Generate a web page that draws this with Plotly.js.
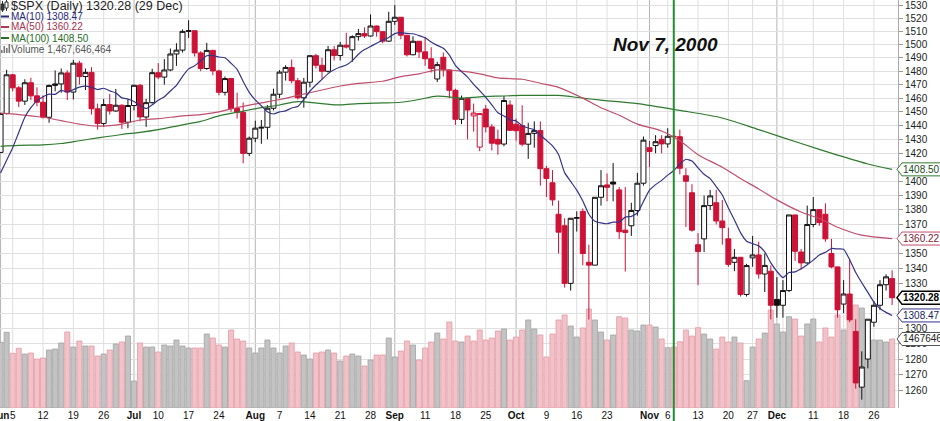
<!DOCTYPE html>
<html><head><meta charset="utf-8">
<script src="https://cdn.plot.ly/plotly-3.0.1.min.js"></script>
<style>html,body{margin:0;padding:0;background:#fff;}#chart{width:940px;height:421px;}</style>
</head><body><div id="chart"></div>
<script>
// ---- trading days (2000) ----
const dates = [
'06-01','06-02','06-05','06-06','06-07','06-08','06-09','06-12','06-13','06-14',
'06-15','06-16','06-19','06-20','06-21','06-22','06-23','06-26','06-27','06-28',
'06-29','06-30','07-03','07-05','07-06','07-07','07-10','07-11','07-12','07-13',
'07-14','07-17','07-18','07-19','07-20','07-21','07-24','07-25','07-26','07-27',
'07-28','07-31','08-01','08-02','08-03','08-04','08-07','08-08','08-09','08-10',
'08-11','08-14','08-15','08-16','08-17','08-18','08-21','08-22','08-23','08-24',
'08-25','08-28','08-29','08-30','08-31','09-01','09-05','09-06','09-07','09-08',
'09-11','09-12','09-13','09-14','09-15','09-18','09-19','09-20','09-21','09-22',
'09-25','09-26','09-27','09-28','09-29','10-02','10-03','10-04','10-05','10-06',
'10-09','10-10','10-11','10-12','10-13','10-16','10-17','10-18','10-19','10-20',
'10-23','10-24','10-25','10-26','10-27','10-30','10-31','11-01','11-02','11-03',
'11-06','11-07','11-08','11-09','11-10','11-13','11-14','11-15','11-16','11-17',
'11-20','11-21','11-22','11-24','11-27','11-28','11-29','11-30','12-01','12-04',
'12-05','12-06','12-07','12-08','12-11','12-12','12-13','12-14','12-15','12-18',
'12-19','12-20','12-21','12-22','12-26','12-27','12-28','12-29'];

const prevClose0 = 1420.6; // close of 31 May

const open = [
1420.6,1448.8,1477.3,1467.6,1457.8,1471.4,1461.7,1457.0,1446.0,1469.4,
1470.5,1478.7,1464.5,1486.0,1476.0,1479.1,1452.2,1441.5,1455.3,1450.6,
1454.8,1442.4,1454.6,1469.5,1446.2,1456.7,1478.9,1475.6,1480.9,1492.9,
1495.8,1510.0,1510.5,1493.7,1482.0,1495.6,1480.2,1464.3,1474.5,1452.4,
1449.6,1419.9,1430.8,1438.1,1438.7,1452.6,1462.9,1479.3,1482.8,1472.9,
1460.3,1471.8,1491.6,1484.4,1479.9,1496.1,1491.7,1499.5,1496.0,1506.0,
1508.3,1506.5,1514.1,1509.8,1502.6,1517.7,1520.8,1507.1,1492.3,1502.5,
1494.5,1489.3,1474.2,1490.4,1480.9,1465.8,1444.5,1459.9,1447.0,1424.4,
1452.0,1439.0,1430.0,1426.6,1455.0,1441.0,1440.0,1426.5,1434.3,1436.3,
1409.0,1399.0,1377.0,1369.0,1329.8,1374.2,1379.0,1344.0,1342.1,1388.8,
1397.5,1399.5,1394.0,1366.0,1369.0,1379.6,1398.7,1424.0,1425.5,1430.0,
1426.7,1432.2,1431.9,1404.0,1392.0,1356.0,1360.0,1383.0,1385.0,1372.3,
1360.0,1344.0,1347.4,1322.4,1347.0,1349.0,1336.1,1338.0,1319.0,1315.2,
1325.0,1376.5,1351.0,1343.6,1369.9,1380.2,1377.0,1350.0,1340.9,1316.0,
1322.7,1298.0,1262.0,1280.0,1304.0,1315.2,1328.9,1333.0];

const high = [
1448.8,1481.0,1478.0,1469.0,1474.0,1475.0,1468.0,1462.0,1470.0,1480.6,
1482.0,1480.7,1488.4,1487.8,1482.0,1483.0,1456.0,1459.5,1463.0,1466.8,
1455.5,1459.0,1470.0,1470.5,1459.5,1481.8,1486.0,1489.0,1497.0,1501.0,
1511.5,1518.5,1511.0,1495.0,1501.3,1496.0,1481.0,1476.0,1475.0,1464.0,
1456.8,1432.0,1443.5,1444.0,1455.0,1467.0,1480.8,1484.5,1488.8,1475.0,
1475.0,1491.6,1493.0,1490.0,1499.0,1499.0,1502.0,1509.0,1507.0,1511.8,
1513.0,1523.0,1514.5,1510.0,1525.0,1530.1,1520.8,1507.1,1506.3,1502.5,
1505.8,1498.0,1487.0,1494.0,1481.0,1467.0,1461.9,1460.0,1456.0,1449.0,
1455.0,1441.0,1437.0,1461.7,1458.3,1445.0,1454.8,1442.0,1443.0,1443.0,
1411.0,1408.0,1386.5,1374.2,1374.2,1379.0,1381.0,1356.0,1389.0,1408.0,
1405.6,1413.0,1396.0,1396.0,1385.0,1406.0,1432.0,1428.8,1433.0,1433.0,
1438.0,1436.0,1437.0,1409.3,1398.0,1364.0,1390.0,1394.0,1394.0,1387.0,
1367.7,1353.0,1347.4,1343.0,1362.0,1358.0,1350.0,1341.9,1334.0,1332.0,
1376.5,1376.5,1353.0,1383.0,1389.0,1380.5,1384.5,1360.0,1340.9,1332.0,
1346.4,1306.0,1285.0,1306.0,1318.0,1332.0,1335.9,1338.6];

const low = [
1420.0,1448.0,1465.0,1453.5,1455.0,1458.6,1454.0,1445.0,1442.0,1465.0,
1464.0,1458.6,1459.0,1470.0,1466.0,1448.0,1437.0,1439.0,1448.0,1450.0,
1437.5,1438.0,1451.0,1443.0,1439.0,1456.0,1474.0,1470.0,1480.0,1484.0,
1494.0,1505.0,1491.0,1480.0,1481.0,1477.0,1462.0,1462.0,1450.0,1445.0,
1412.8,1418.0,1428.0,1426.8,1430.0,1451.0,1460.0,1473.0,1471.0,1459.0,
1453.0,1468.0,1482.0,1474.0,1479.0,1488.0,1488.0,1497.0,1487.0,1503.0,
1505.0,1506.0,1506.0,1501.0,1502.0,1515.0,1504.0,1491.0,1492.0,1489.9,
1484.0,1479.0,1472.0,1476.0,1460.0,1440.4,1441.0,1430.0,1435.6,1421.5,
1435.0,1422.0,1419.0,1425.0,1436.0,1429.0,1425.0,1416.0,1424.0,1397.0,
1389.0,1383.0,1350.0,1327.0,1325.0,1365.0,1342.0,1305.8,1342.0,1383.0,
1386.0,1386.0,1360.0,1337.8,1362.0,1376.0,1397.0,1410.0,1420.0,1420.0,
1424.0,1423.0,1405.0,1368.2,1365.0,1328.6,1351.0,1380.0,1370.0,1356.0,
1341.0,1338.0,1321.0,1321.0,1341.0,1333.0,1324.0,1305.9,1307.0,1307.0,
1324.0,1345.0,1339.0,1343.0,1368.0,1369.0,1358.0,1340.0,1307.0,1310.0,
1304.0,1261.0,1254.1,1274.0,1301.0,1312.0,1325.0,1315.4];

const close = [
1448.8,1477.3,1467.6,1457.8,1471.4,1461.7,1457.0,1446.0,1469.4,1470.5,
1478.7,1464.5,1486.0,1476.0,1479.1,1452.2,1441.5,1455.3,1450.6,1454.8,
1442.4,1454.6,1469.5,1446.2,1456.7,1478.9,1475.6,1480.9,1492.9,1495.8,
1510.0,1510.5,1493.7,1482.0,1495.6,1480.2,1464.3,1474.5,1452.4,1449.6,
1419.9,1430.8,1438.1,1438.7,1452.6,1462.9,1479.3,1482.8,1472.9,1460.3,
1471.8,1491.6,1484.4,1479.9,1496.1,1491.7,1499.5,1498.1,1506.0,1508.3,
1506.5,1514.1,1509.8,1502.6,1517.7,1520.8,1507.1,1492.3,1502.5,1494.5,
1489.3,1482.0,1484.9,1480.9,1465.8,1444.5,1459.9,1451.3,1449.1,1448.7,
1439.0,1427.2,1426.6,1458.3,1436.5,1436.2,1426.5,1434.3,1436.3,1409.0,
1402.0,1387.0,1364.6,1329.8,1374.2,1374.6,1350.0,1342.1,1388.8,1396.9,
1395.8,1398.1,1364.9,1364.4,1379.6,1398.7,1429.4,1421.2,1428.3,1426.7,
1432.2,1431.9,1409.3,1400.1,1366.0,1351.3,1383.0,1389.8,1372.3,1367.7,
1342.6,1347.4,1322.4,1341.8,1349.0,1336.1,1341.9,1315.2,1315.2,1325.0,
1376.5,1351.5,1343.6,1369.9,1380.2,1371.2,1360.0,1340.9,1312.2,1322.7,
1305.6,1264.7,1274.9,1306.0,1315.2,1328.9,1334.2,1320.28];

// volume, millions of shares
const volumeM = [
1397,1610,1163,1270,1149,1170,1042,1064,1234,1255,
1383,1617,1297,1425,1319,1319,1106,1149,1234,1361,
1404,1531,574,1383,1297,1297,1191,1340,1319,1446,
1319,1276,1276,1276,1574,1489,1340,1297,1659,1468,
1425,1276,1170,1276,1446,1276,1170,1319,1383,1191,
1127,1042,1170,1191,1234,1170,1000,1106,1149,1106,
893,1021,1127,1127,1489,1085,1212,1425,1340,1021,
1276,1404,1595,1468,1829,1425,1404,1531,1425,1659,
1446,1489,1638,1680,1446,1510,1659,1872,1680,1553,
1085,1574,1872,1978,1744,1510,1702,2106,1872,1617,
1446,1553,1942,1914,1659,1638,1765,1765,1723,1468,
1283,1297,1410,1659,1531,1708,1574,1468,1255,1510,
1404,1510,1383,581,1297,1468,1595,2084,1787,1617,
1942,1893,1531,1787,1893,1404,1702,1510,1978,1659,
2191,2191,2127,1127,1446,1446,1404,1467.646464];
const lastVolume = '1467646464';

const ma10 = [
1406,1415,1424,1435,1446,1453,1458,1461,1463,1462.8,
1465.7,1464.5,1466.3,1468.1,1468.9,1467.9,1466.4,1467.3,1465.4,1463.9,
1460.2,1459.3,1457.6,1454.6,1452.4,1455.1,1458.5,1461.0,1465.3,1469.4,
1476.1,1481.7,1484.1,1487.7,1491.6,1491.7,1490.6,1490.0,1485.9,1481.3,
1472.3,1464.3,1458.7,1454.4,1450.1,1448.4,1449.9,1450.7,1452.8,1453.8,
1459.0,1465.1,1469.7,1473.9,1478.2,1481.1,1483.1,1484.6,1487.9,1492.7,
1496.2,1498.5,1501.0,1503.3,1505.4,1508.3,1509.1,1508.5,1508.2,1506.8,
1505.1,1501.9,1499.4,1497.2,1492.0,1484.4,1479.7,1475.6,1470.2,1465.6,
1460.6,1455.1,1449.3,1447.0,1444.1,1443.3,1439.9,1438.2,1437.0,1433.0,
1429.3,1425.3,1419.1,1406.2,1400.0,1393.8,1386.2,1377.0,1372.2,1371.0,
1370.4,1371.5,1371.5,1375.0,1375.5,1377.9,1385.9,1393.8,1397.7,1400.7,
1404.4,1407.7,1412.2,1415.7,1414.4,1409.6,1405.0,1401.9,1396.3,1390.4,
1381.4,1373.0,1364.3,1358.4,1356.7,1355.2,1351.1,1343.6,1337.9,1333.7,
1337.1,1337.5,1339.6,1342.4,1345.5,1349.0,1350.8,1353.4,1353.1,1352.9,
1345.8,1337.1,1330.2,1323.8,1317.3,1313.1,1310.5,1308.47];

const ma50Dates = ['06-01','06-06','06-12','06-15','06-20','06-23','06-29','07-05','07-10','07-14',
 '07-19','07-24','07-28','08-02','08-07','08-10','08-16','08-21','08-24','08-30','09-05','09-08',
 '09-13','09-19','09-22','09-27','10-03','10-06','10-11','10-17','10-20','10-25','10-30','11-03',
 '11-08','11-13','11-17','11-22','11-28','12-01','12-07','12-12','12-15','12-21','12-29'];
const ma50Vals = [1449,1448,1446,1443.5,1441,1439.5,1441,1444,1445,1447,
 1448,1450,1454,1456.5,1459,1462,1466,1469,1471,1472.5,1476,1478,
 1481,1480,1478,1475,1474,1471,1468,1460,1453,1447.5,1441,1436,
 1429,1419,1410,1402,1394.7,1387,1378.5,1374,1368,1362.5,1360.22];

const ma100Dates = ['06-01','06-06','06-12','06-15','06-20','06-23','06-29','07-05','07-10','07-14',
 '07-19','07-24','07-28','08-02','08-07','08-10','08-16','08-21','08-24','08-30','09-05','09-08',
 '09-13','09-19','09-22','09-27','10-03','10-06','10-11','10-17','10-20','10-30','11-08','11-17',
 '11-28','12-07','12-15','12-22','12-29'];
const ma100Vals = [1425,1425.7,1426,1427,1429,1431,1433.5,1435,1437,1440.5,
 1443,1447,1450.5,1453,1455,1457.5,1456,1455,1456,1456.5,1457,1459,
 1461.5,1460,1461,1461.5,1462,1462,1462,1460,1458.6,1456,1451,1445.5,
 1437,1427,1418.7,1412.3,1408.5];

// x-axis labels
const tickDates = ['06-01','06-05','06-12','06-19','06-26','07-03','07-10','07-17','07-24','08-01','08-07',
 '08-14','08-21','08-28','09-01','09-11','09-18','09-25','10-02','10-09','10-16','10-23','11-01','11-06',
 '11-13','11-20','11-27','12-01','12-11','12-18','12-26'];
const tickLabels = ['<b>Jun</b>','5','12','19','26','<b>Jul</b>','10','17','24','<b>Aug</b>','7',
 '14','21','28','<b>Sep</b>','11','18','25','<b>Oct</b>','9','16','23','<b>Nov</b>','6',
 '13','20','27','<b>Dec</b>','11','18','26'];
const monthLineDates = ['06-01','07-03','08-01','09-01','10-02','11-01','12-01'];
const weekLineDates = ['06-05','06-12','06-19','06-26','07-10','07-17','07-24','07-31','08-07','08-14',
 '08-21','08-28','09-11','09-18','09-25','10-09','10-16','10-23','10-30','11-06','11-13','11-20',
 '11-27','12-04','12-11','12-18','12-26'];
const markDate = '11-07';
const markText = 'Nov 7, 2000';
const priceTicks = [1260,1270,1280,1290,1300,1310,1320,1330,1340,1350,1360,1370,1380,1390,1400,
 1410,1420,1430,1440,1450,1460,1470,1480,1490,1500,1510,1520,1530];
// price labels that sit under the value tags on the right (hidden there in the original)
const coveredTicks = [1310,1320,1360,1410];

// ---- build ----
const idx = d => dates.indexOf(d);
const RED = '#cc1236';
const up = {x:[],open:[],high:[],low:[],close:[]};
const dn = {x:[],open:[],high:[],low:[],close:[]};
const volColor = [], volLine = [];
for (let i = 0; i < dates.length; i++) {
  const prev = i === 0 ? prevClose0 : close[i-1];
  const t = close[i] >= prev ? up : dn;
  t.x.push(i); t.open.push(open[i]); t.high.push(high[i]); t.low.push(low[i]); t.close.push(close[i]);
  volColor.push(close[i] >= prev ? '#c3c3c3' : '#f2c2c9');
  volLine.push(close[i] >= prev ? '#a2a2a2' : '#e39aa6');
}
const xs = dates.map((d,i)=>i);

const W = 898, H = 408;           // plot area in px
const R0 = 3.096494, R1 = 3.185852;  // log10 price range
const VMAX = 8678;
const px = x => x / W;
const py = y => 1 - y / H;
const pPrice = v => (Math.log10(v) - R0) / (R1 - R0);

const traces = [
  {type:'bar', x:xs, y:volumeM, yaxis:'y', xaxis:'x', width:0.84,
   marker:{color:volColor, line:{color:volLine, width:0.8}}, hoverinfo:'skip'},
  {type:'candlestick', x:up.x, open:up.open, high:up.high, low:up.low, close:up.close,
   xaxis:'x', yaxis:'y2', whiskerwidth:0,
   increasing:{line:{color:'#111', width:1}, fillcolor:'#ffffff'},
   decreasing:{line:{color:'#111', width:1}, fillcolor:'#111111'}, hoverinfo:'skip'},
  {type:'candlestick', x:dn.x, open:dn.open, high:dn.high, low:dn.low, close:dn.close,
   xaxis:'x', yaxis:'y2', whiskerwidth:0,
   increasing:{line:{color:RED, width:1}, fillcolor:'#ffffff'},
   decreasing:{line:{color:RED, width:1}, fillcolor:RED}, hoverinfo:'skip'},
  {type:'scatter', mode:'lines', x:ma100Dates.map(idx), y:ma100Vals, xaxis:'x', yaxis:'y2',
   line:{color:'#2f7a2f', width:1.2, shape:'spline', smoothing:0.8}, hoverinfo:'skip'},
  {type:'scatter', mode:'lines', x:ma50Dates.map(idx), y:ma50Vals, xaxis:'x', yaxis:'y2',
   line:{color:'#c04e6c', width:1.2, shape:'spline', smoothing:0.8}, hoverinfo:'skip'},
  {type:'scatter', mode:'lines', x:xs, y:ma10, xaxis:'x', yaxis:'y2',
   line:{color:'#34348a', width:1.2, shape:'spline', smoothing:0.5}, hoverinfo:'skip'}
];

const shapes = [];
weekLineDates.forEach(d => shapes.push({type:'line', xref:'x', yref:'paper', x0:idx(d), x1:idx(d), y0:0, y1:1,
  line:{color:'#dedede', width:1}, layer:'below'}));
monthLineDates.forEach(d => shapes.push({type:'line', xref:'x', yref:'paper', x0:idx(d), x1:idx(d), y0:0, y1:1,
  line:{color:'#b4b4b4', width:1}, layer:'below'}));
shapes.push({type:'line', xref:'x', yref:'paper', x0:idx(markDate), x1:idx(markDate), y0:-13/H, y1:1,
  line:{color:'#1f8f2f', width:2}, layer:'above'});

// legend icons
shapes.push({type:'line', xref:'paper', yref:'paper', x0:px(2.5), x1:px(2.5), y0:py(1), y1:py(12), line:{color:'#333', width:1}});
shapes.push({type:'rect', xref:'paper', yref:'paper', x0:px(1), x1:px(4), y0:py(4), y1:py(10), line:{color:'#333', width:1}, fillcolor:'#333'});
shapes.push({type:'line', xref:'paper', yref:'paper', x0:px(6.5), x1:px(6.5), y0:py(0), y1:py(11), line:{color:'#333', width:1}});
shapes.push({type:'rect', xref:'paper', yref:'paper', x0:px(5), x1:px(8), y0:py(2), y1:py(8), line:{color:'#333', width:1}, fillcolor:'#fff'});
[['#2a2a7a',16.5],['#b03a5a',27],['#2a6e2a',38]].forEach(([c,y]) =>
  shapes.push({type:'line', xref:'paper', yref:'paper', x0:px(1), x1:px(9), y0:py(y), y1:py(y), line:{color:c, width:2}}));
[[1,50,53],[3.5,46,53],[6,48,53],[8.5,44,53]].forEach(([x,y0,y1]) =>
  shapes.push({type:'rect', xref:'paper', yref:'paper', x0:px(x), x1:px(x+1.6), y0:py(y1), y1:py(y0), line:{width:0}, fillcolor:'#777'}));

// right-hand value tags
const tags = [
  {yp:pPrice(ma100Vals[ma100Vals.length-1]), text:ma100Vals[ma100Vals.length-1].toFixed(2), border:'#2f7a2f', color:'#1e4a1e', bold:false},
  {yp:pPrice(ma50Vals[ma50Vals.length-1]), text:ma50Vals[ma50Vals.length-1].toFixed(2), border:'#c04e6c', color:'#7a2038', bold:false},
  {yp:pPrice(ma10[ma10.length-1]), text:ma10[ma10.length-1].toFixed(2), border:'#34348a', color:'#222266', bold:false},
  {yp:volumeM[volumeM.length-1]/VMAX, text:lastVolume, border:'#555', color:'#222', bold:false},
  {yp:pPrice(close[close.length-1]), text:close[close.length-1].toFixed(2), border:'#000', color:'#000', bold:true}
];
const annotations = [];
tags.forEach(t => {
  const h = 6.5 / H, xt = 897/W, xb = 902/W, xe = 980/W;
  shapes.push({type:'path', xref:'paper', yref:'paper',
    path:`M ${xt},${t.yp} L ${xb},${t.yp+h} L ${xe},${t.yp+h} L ${xe},${t.yp-h} L ${xb},${t.yp-h} Z`,
    fillcolor:'#ffffff', line:{color:t.border, width:t.bold?1.5:1}, layer:'above'});
  annotations.push({xref:'paper', yref:'paper', x:902.5/W, y:t.yp, xanchor:'left', yanchor:'middle',
    text:t.bold?`<b>${t.text}</b>`:t.text, showarrow:false, borderpad:0,
    font:{size:10, color:t.color, family:'Liberation Sans, Arial, sans-serif'}});
});

// legend texts
const lastClose = close[close.length-1].toFixed(2);
annotations.push({xref:'paper', yref:'paper', x:px(10), y:py(6.5), xanchor:'left', yanchor:'middle', showarrow:false, borderpad:0,
  text:`$SPX (Daily) ${lastClose} (29 Dec)`, font:{size:12.5, color:'#222'}});
annotations.push({xref:'paper', yref:'paper', x:px(10), y:py(16.5), xanchor:'left', yanchor:'middle', showarrow:false, borderpad:0,
  text:`MA(10) ${ma10[ma10.length-1].toFixed(2)}`, font:{size:10, color:'#2a2a7a'}});
annotations.push({xref:'paper', yref:'paper', x:px(10), y:py(27), xanchor:'left', yanchor:'middle', showarrow:false, borderpad:0,
  text:`MA(50) ${ma50Vals[ma50Vals.length-1].toFixed(2)}`, font:{size:10, color:'#a8324f'}});
annotations.push({xref:'paper', yref:'paper', x:px(10), y:py(38), xanchor:'left', yanchor:'middle', showarrow:false, borderpad:0,
  text:`MA(100) ${ma100Vals[ma100Vals.length-1].toFixed(2)}`, font:{size:10, color:'#2a6e2a'}});
annotations.push({xref:'paper', yref:'paper', x:px(10), y:py(49), xanchor:'left', yanchor:'middle', showarrow:false, borderpad:0,
  text:`Volume ${Number(lastVolume).toLocaleString('en-US')}`, font:{size:10, color:'#555'}});
annotations.push({xref:'paper', yref:'paper', x:px(665.5), y:py(44), xanchor:'center', yanchor:'middle', showarrow:false,
  text:`<b><i>${markText}</i></b>`, font:{size:19, color:'#111'}});

const layout = {
  width:940, height:421,
  margin:{l:0, r:42, t:0, b:13, pad:0},
  paper_bgcolor:'#ffffff', plot_bgcolor:'#ffffff',
  showlegend:false,
  font:{family:'Liberation Sans, Arial, sans-serif', size:10, color:'#222'},
  boxgap:0.18, boxgroupgap:0,
  xaxis:{range:[-0.094, 147.97], tickmode:'array', tickvals:tickDates.map(idx), ticktext:tickLabels,
    tickangle:0, ticklabeloverflow:'allow', showgrid:false, zeroline:false, ticks:'', showline:false,
    rangeslider:{visible:false}, fixedrange:true, tickfont:{size:10, color:'#111'}},
  yaxis:{range:[0, VMAX], showticklabels:false, showgrid:false, zeroline:false, ticks:'', fixedrange:true},
  yaxis2:{overlaying:'y', side:'right', type:'log', range:[R0, R1], tickmode:'array',
    tickvals:priceTicks, ticktext:priceTicks.map(v => coveredTicks.includes(v) ? '' : String(v)),
    showgrid:true, gridcolor:'#e0e0e0', gridwidth:1,
    zeroline:false, ticks:'outside', ticklen:4, tickcolor:'#999', showline:true, linecolor:'#aaa', linewidth:1,
    ticklabeloverflow:'allow', tickfont:{size:10, color:'#222'}, fixedrange:true},
  shapes:shapes, annotations:annotations
};

Plotly.newPlot('chart', traces, layout, {staticPlot:true, displayModeBar:false});
</script>
</body></html>
